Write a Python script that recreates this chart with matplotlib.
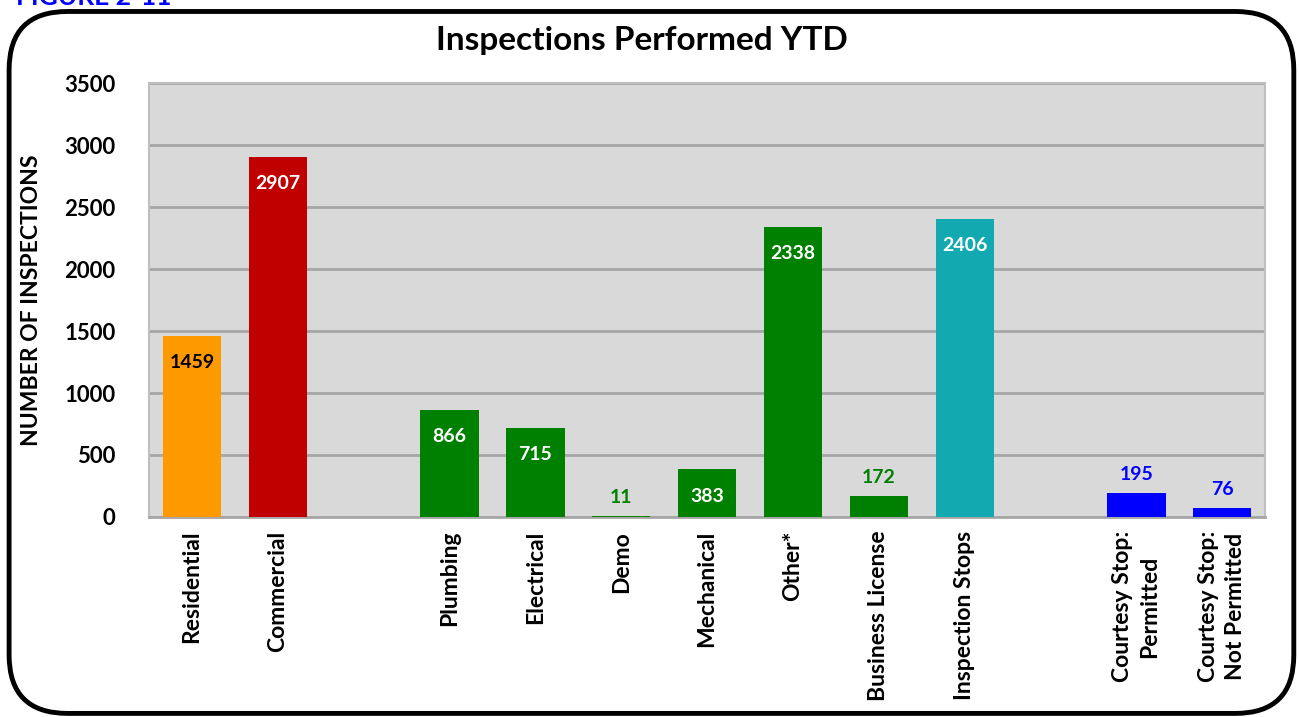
import matplotlib.pyplot as plt
from matplotlib.patches import FancyBboxPatch

categories = ['Residential', 'Commercial', '', 'Plumbing', 'Electrical', 'Demo',
              'Mechanical', 'Other*', 'Business License', 'Inspection Stops', '',
              'Courtesy Stop:\nPermitted', 'Courtesy Stop:\nNot Permitted']
values = [1459, 2907, None, 866, 715, 11, 383, 2338, 172, 2406, None, 195, 76]
colors = ['#FF9900', '#C00000', None, '#008000', '#008000', '#008000', '#008000',
          '#008000', '#008000', '#12A9B0', None, '#0000FF', '#0000FF']
# label inside the bar (True) or above it (False)
inside = [True, True, None, True, True, False, True, True, False, True, None, False, False]
inside_text = ['black', 'white', None, 'white', 'white', None, 'white', 'white', None,
               'white', None, None, None]

plt.rcParams['font.family'] = ['Lato', 'DejaVu Sans']
plt.rcParams['font.weight'] = 'bold'

fig = plt.figure(figsize=(12.99, 7.17), dpi=100)
ax = fig.add_axes([0.1147, 0.279, 0.8593, 0.605])

border = FancyBboxPatch((0.007, 0.005), 0.989, 0.979, boxstyle='round,pad=0,rounding_size=0.045',
                        transform=fig.transFigure, fill=False, lw=3.5, ec='black',
                        mutation_aspect=1299 / 717)
fig.patches.append(border)
fig.text(0.012, 1.004, 'FIGURE 2-11', color='#0000FF', fontsize=19, ha='left', va='center')
fig.text(0.494, 0.944, 'Inspections Performed YTD', fontsize=24, fontweight='bold',
         ha='center', va='center')

ax.set_facecolor('#D9D9D9')
x = list(range(len(categories)))
for i, v in enumerate(values):
    if v is None:
        continue
    ax.bar(i, v, width=0.68, color=colors[i], zorder=3)
    if inside[i]:
        ax.text(i, v - 215, str(v), ha='center', va='center', color=inside_text[i],
                fontsize=14, fontweight='bold', zorder=4)
    else:
        ax.text(i, v + 145, str(v), ha='center', va='center', color=colors[i],
                fontsize=14, fontweight='bold', zorder=4)

ax.set_xlim(-0.5, len(categories) - 0.5)
ax.set_ylim(0, 3500)
ax.set_yticks(range(0, 3501, 500))
ax.yaxis.grid(True, color='#A6A6A6', lw=2, zorder=0)
ax.set_xticks(x)
ax.set_xticklabels(categories, rotation=90, fontsize=16.5, fontweight='bold', linespacing=1.35)
ax.tick_params(axis='both', length=0)
ax.tick_params(axis='x', pad=10)
ax.tick_params(axis='y', labelsize=16, pad=24)
for s in ax.spines.values():
    s.set_color('#BFBFBF')
    s.set_linewidth(1.5)
ax.spines['bottom'].set_color('#A6A6A6')
ax.spines['bottom'].set_linewidth(2)

ax.set_ylabel('NUMBER OF INSPECTIONS', fontsize=16.5, fontweight='bold', labelpad=16)

fig.savefig('out.png', dpi=100)
